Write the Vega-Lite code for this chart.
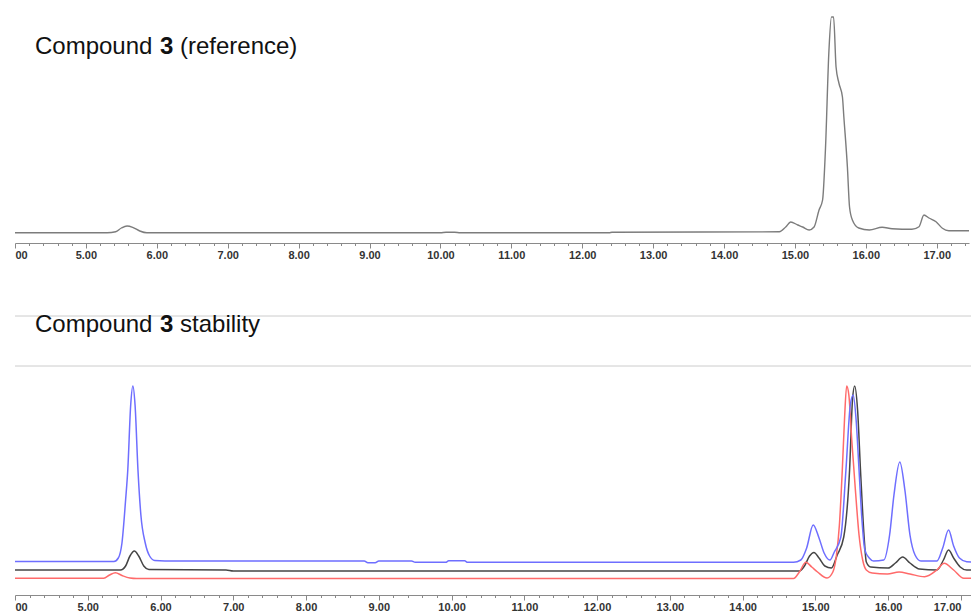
{
  "$schema": "https://vega.github.io/schema/vega-lite/v6.json",
  "background": "white",
  "padding": {"left": 12, "top": 10, "right": 0, "bottom": 0},
  "spacing": 51,
  "config": {"view": {"stroke": null}},
  "datasets": {
    "top": [
      {"t": 4.0, "v": 10.2}, {"t": 5.3, "v": 10.2}, {"t": 5.42, "v": 11.2}, {"t": 5.5, "v": 15}, {"t": 5.58, "v": 17}, {"t": 5.66, "v": 15.7}, {"t": 5.76, "v": 12}, {"t": 5.86, "v": 10.2},
      {"t": 10.0, "v": 10.2}, {"t": 10.08, "v": 10.7}, {"t": 10.2, "v": 10.7}, {"t": 10.28, "v": 10.2}, {"t": 12.38, "v": 10.2}, {"t": 12.42, "v": 10.8},
      {"t": 14.78, "v": 11.2}, {"t": 14.87, "v": 16}, {"t": 14.94, "v": 21}, {"t": 15.04, "v": 18}, {"t": 15.11, "v": 16}, {"t": 15.2, "v": 13}, {"t": 15.27, "v": 16},
      {"t": 15.34, "v": 33}, {"t": 15.39, "v": 43}, {"t": 15.43, "v": 93}, {"t": 15.48, "v": 193}, {"t": 15.515, "v": 226}, {"t": 15.545, "v": 226},
      {"t": 15.58, "v": 176}, {"t": 15.62, "v": 160}, {"t": 15.67, "v": 146}, {"t": 15.69, "v": 126}, {"t": 15.74, "v": 76}, {"t": 15.77, "v": 36}, {"t": 15.81, "v": 23},
      {"t": 15.9, "v": 15}, {"t": 16.05, "v": 13}, {"t": 16.23, "v": 15.7}, {"t": 16.37, "v": 14.3}, {"t": 16.65, "v": 13.7}, {"t": 16.75, "v": 16.3},
      {"t": 16.82, "v": 28}, {"t": 16.89, "v": 25}, {"t": 16.99, "v": 21.3}, {"t": 17.08, "v": 14.7}, {"t": 17.17, "v": 12.3}, {"t": 17.455, "v": 12.3}
    ],
    "blue": [
      {"t": 4.0, "v": 33.5}, {"t": 5.36, "v": 33.5}, {"t": 5.42, "v": 37}, {"t": 5.47, "v": 52}, {"t": 5.52, "v": 95}, {"t": 5.55, "v": 125}, {"t": 5.59, "v": 190},
      {"t": 5.62, "v": 209}, {"t": 5.65, "v": 190}, {"t": 5.69, "v": 125}, {"t": 5.73, "v": 80}, {"t": 5.79, "v": 52}, {"t": 5.85, "v": 39}, {"t": 5.92, "v": 34.5},
      {"t": 6.2, "v": 34}, {"t": 8.8, "v": 34}, {"t": 8.85, "v": 32.3}, {"t": 8.95, "v": 32.3}, {"t": 9.0, "v": 34}, {"t": 9.45, "v": 34}, {"t": 9.5, "v": 32.7},
      {"t": 9.92, "v": 32.7}, {"t": 9.96, "v": 34.2}, {"t": 10.18, "v": 34.2}, {"t": 10.22, "v": 32.7}, {"t": 14.7, "v": 32.7},
      {"t": 14.8, "v": 35}, {"t": 14.88, "v": 47}, {"t": 14.97, "v": 70}, {"t": 15.05, "v": 57}, {"t": 15.12, "v": 42}, {"t": 15.2, "v": 35}, {"t": 15.26, "v": 43},
      {"t": 15.35, "v": 58}, {"t": 15.42, "v": 125}, {"t": 15.48, "v": 190}, {"t": 15.52, "v": 200}, {"t": 15.56, "v": 175}, {"t": 15.6, "v": 125}, {"t": 15.64, "v": 75},
      {"t": 15.68, "v": 45}, {"t": 15.74, "v": 37}, {"t": 15.8, "v": 34}, {"t": 15.94, "v": 35}, {"t": 16.02, "v": 60}, {"t": 16.08, "v": 100}, {"t": 16.16, "v": 133},
      {"t": 16.23, "v": 105}, {"t": 16.3, "v": 60}, {"t": 16.37, "v": 40}, {"t": 16.45, "v": 34}, {"t": 16.67, "v": 34}, {"t": 16.75, "v": 47}, {"t": 16.83, "v": 65},
      {"t": 16.9, "v": 49}, {"t": 16.98, "v": 37}, {"t": 17.08, "v": 33.3}, {"t": 17.18, "v": 33}
    ],
    "black": [
      {"t": 4.0, "v": 25}, {"t": 5.45, "v": 25}, {"t": 5.52, "v": 29}, {"t": 5.58, "v": 39}, {"t": 5.64, "v": 44}, {"t": 5.7, "v": 39}, {"t": 5.77, "v": 29},
      {"t": 5.84, "v": 25.5}, {"t": 6.9, "v": 25}, {"t": 7.0, "v": 24}, {"t": 14.78, "v": 24}, {"t": 14.85, "v": 29}, {"t": 14.92, "v": 39}, {"t": 14.98, "v": 42.5},
      {"t": 15.05, "v": 37}, {"t": 15.13, "v": 29}, {"t": 15.22, "v": 27}, {"t": 15.3, "v": 40}, {"t": 15.39, "v": 58}, {"t": 15.47, "v": 125}, {"t": 15.51, "v": 195},
      {"t": 15.54, "v": 209}, {"t": 15.58, "v": 185}, {"t": 15.62, "v": 125}, {"t": 15.67, "v": 58}, {"t": 15.7, "v": 33}, {"t": 15.76, "v": 28}, {"t": 16.0, "v": 27},
      {"t": 16.1, "v": 32}, {"t": 16.2, "v": 38}, {"t": 16.3, "v": 32}, {"t": 16.43, "v": 26}, {"t": 16.67, "v": 25}, {"t": 16.76, "v": 35}, {"t": 16.83, "v": 45},
      {"t": 16.9, "v": 37}, {"t": 16.99, "v": 28}, {"t": 17.08, "v": 25}, {"t": 17.18, "v": 25}
    ],
    "red": [
      {"t": 4.0, "v": 16.7}, {"t": 5.22, "v": 16.7}, {"t": 5.3, "v": 20}, {"t": 5.38, "v": 22.3}, {"t": 5.47, "v": 19.5}, {"t": 5.58, "v": 17}, {"t": 5.67, "v": 16.5},
      {"t": 14.7, "v": 16.5}, {"t": 14.78, "v": 23}, {"t": 14.87, "v": 32.7}, {"t": 14.95, "v": 28}, {"t": 15.03, "v": 23}, {"t": 15.16, "v": 17}, {"t": 15.24, "v": 23},
      {"t": 15.29, "v": 40}, {"t": 15.33, "v": 70}, {"t": 15.37, "v": 125}, {"t": 15.4, "v": 175}, {"t": 15.43, "v": 209}, {"t": 15.46, "v": 200}, {"t": 15.5, "v": 155},
      {"t": 15.55, "v": 105}, {"t": 15.6, "v": 60}, {"t": 15.65, "v": 35}, {"t": 15.7, "v": 25}, {"t": 15.78, "v": 22}, {"t": 15.99, "v": 21}, {"t": 16.15, "v": 23},
      {"t": 16.3, "v": 21}, {"t": 16.5, "v": 18.3}, {"t": 16.67, "v": 25}, {"t": 16.77, "v": 31.7}, {"t": 16.9, "v": 25}, {"t": 17.04, "v": 16.7}, {"t": 17.18, "v": 16.7}
    ],
    "rules": [
      {"t": 4.0, "t2": 17.18, "v": 279}, {"t": 4.0, "t2": 17.18, "v": 229}
    ],
    "topText": [
      {"t": 4.282, "v": 189.5, "text": "Compound"}, {"t": 6.327, "v": 189.5, "text": "(reference)"}
    ],
    "topBold": [
      {"t": 6.045, "v": 189.5, "text": "3"}
    ],
    "botText": [
      {"t": 4.275, "v": 263.3, "text": "Compound"}, {"t": 6.268, "v": 263.3, "text": "stability"}
    ],
    "botBold": [
      {"t": 5.993, "v": 263.3, "text": "3"}
    ]
  },
  "vconcat": [
    {
      "width": 954,
      "height": 233,
      "encoding": {
        "x": {
          "field": "t", "type": "quantitative",
          "scale": {"domain": [4.0, 17.455], "nice": false, "zero": false},
          "axis": {
            "title": null, "grid": false,
            "values": [4,4.2,4.4,4.6,4.8,5,5.2,5.4,5.6,5.8,6,6.2,6.4,6.6,6.8,7,7.2,7.4,7.6,7.8,8,8.2,8.4,8.6,8.8,9,9.2,9.4,9.6,9.8,10,10.2,10.4,10.6,10.8,11,11.2,11.4,11.6,11.8,12,12.2,12.4,12.6,12.8,13,13.2,13.4,13.6,13.8,14,14.2,14.4,14.6,14.8,15,15.2,15.4,15.6,15.8,16,16.2,16.4,16.6,16.8,17,17.2,17.4],
            "labelExpr": "abs(datum.value - round(datum.value)) < 0.001 ? (datum.value < 4.5 ? '00' : format(datum.value, '.2f')) : ''",
            "labelFlush": true, "labelOverlap": false, "labelBound": false,
            "labelFont": "Liberation Sans", "labelFontSize": 11, "labelFontWeight": "bold", "labelColor": "#333333", "labelPadding": 1.5,
            "tickColor": "#888888", "tickWidth": 1,
            "tickSize": {"condition": {"test": "abs(datum.value - round(datum.value)) < 0.001", "value": 5}, "value": 2.5},
            "domainColor": "#8a8a8a", "domainWidth": 1.2
          }
        },
        "y": {
          "field": "v", "type": "quantitative",
          "scale": {"domain": [0, 233], "nice": false, "zero": false},
          "axis": null
        }
      },
      "layer": [
        {"data": {"name": "top"}, "mark": {"type": "line", "color": "#7c7c7c", "strokeWidth": 1.4, "interpolate": "monotone"}},
        {"data": {"name": "topText"}, "mark": {"type": "text", "align": "left", "baseline": "alphabetic", "font": "Liberation Sans", "fontSize": 24, "color": "#111111"}, "encoding": {"text": {"field": "text"}}},
        {"data": {"name": "topBold"}, "mark": {"type": "text", "align": "left", "baseline": "alphabetic", "font": "Liberation Sans", "fontSize": 24, "fontWeight": "bold", "color": "#111111"}, "encoding": {"text": {"field": "text"}}}
      ]
    },
    {
      "width": 959,
      "height": 279,
      "encoding": {
        "x": {
          "field": "t", "type": "quantitative",
          "scale": {"domain": [4.0, 17.18], "nice": false, "zero": false},
          "axis": {
            "title": null, "grid": false,
            "values": [4,4.2,4.4,4.6,4.8,5,5.2,5.4,5.6,5.8,6,6.2,6.4,6.6,6.8,7,7.2,7.4,7.6,7.8,8,8.2,8.4,8.6,8.8,9,9.2,9.4,9.6,9.8,10,10.2,10.4,10.6,10.8,11,11.2,11.4,11.6,11.8,12,12.2,12.4,12.6,12.8,13,13.2,13.4,13.6,13.8,14,14.2,14.4,14.6,14.8,15,15.2,15.4,15.6,15.8,16,16.2,16.4,16.6,16.8,17],
            "labelExpr": "abs(datum.value - round(datum.value)) < 0.001 ? (datum.value < 4.5 ? '00' : format(datum.value, '.2f')) : ''",
            "labelFlush": 15, "labelOverlap": false, "labelBound": false,
            "labelFont": "Liberation Sans", "labelFontSize": 11, "labelFontWeight": "bold", "labelColor": "#333333", "labelPadding": 1.5,
            "tickColor": "#888888", "tickWidth": 1,
            "tickSize": {"condition": {"test": "abs(datum.value - round(datum.value)) < 0.001", "value": 5}, "value": 2.5},
            "domainColor": "#8a8a8a", "domainWidth": 1.2
          }
        },
        "y": {
          "field": "v", "type": "quantitative",
          "scale": {"domain": [0, 279], "nice": false, "zero": false},
          "axis": null
        }
      },
      "layer": [
        {"data": {"name": "rules"}, "mark": {"type": "rule", "color": "#cccccc", "strokeWidth": 1}, "encoding": {"x2": {"field": "t2"}}},
        {"data": {"name": "black"}, "mark": {"type": "line", "color": "#454545", "strokeWidth": 1.5, "interpolate": "monotone"}},
        {"data": {"name": "red"}, "mark": {"type": "line", "color": "#ff6a6a", "strokeWidth": 1.5, "interpolate": "monotone"}},
        {"data": {"name": "blue"}, "mark": {"type": "line", "color": "#6e6eff", "strokeWidth": 1.5, "interpolate": "monotone"}},
        {"data": {"name": "botText"}, "mark": {"type": "text", "align": "left", "baseline": "alphabetic", "font": "Liberation Sans", "fontSize": 24, "color": "#111111"}, "encoding": {"text": {"field": "text"}}},
        {"data": {"name": "botBold"}, "mark": {"type": "text", "align": "left", "baseline": "alphabetic", "font": "Liberation Sans", "fontSize": 24, "fontWeight": "bold", "color": "#111111"}, "encoding": {"text": {"field": "text"}}}
      ]
    }
  ]
}
